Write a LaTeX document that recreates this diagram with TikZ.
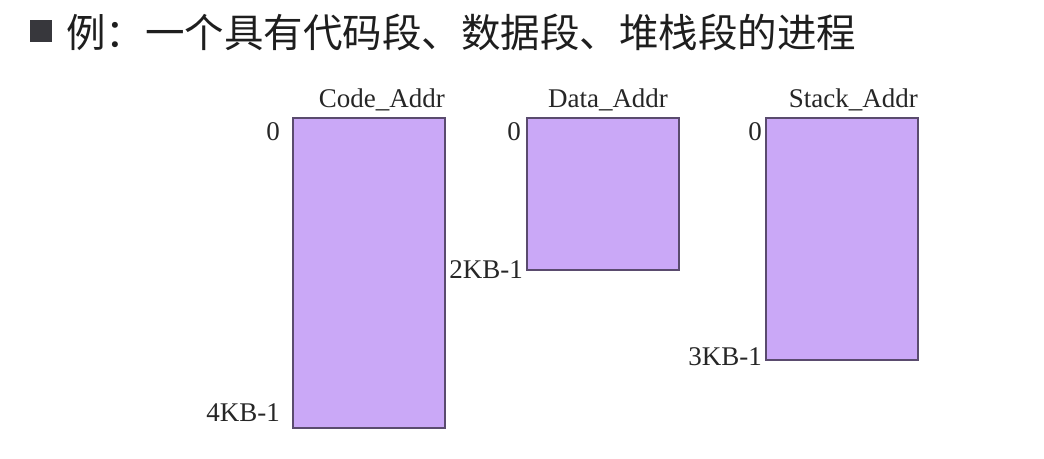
\documentclass[tikz,border=0pt]{standalone}
\usepackage{fontspec}
\setmainfont{Liberation Serif}
\newfontfamily\cjk{Noto Sans CJK SC}
\definecolor{segfill}{RGB}{202,168,247}
\definecolor{segdraw}{RGB}{90,75,110}
\definecolor{titlecol}{RGB}{30,30,30}
\definecolor{bulletcol}{RGB}{55,55,60}
\begin{document}
\begin{tikzpicture}[x=1pt,y=-1pt,
  seg/.style={draw=segdraw,fill=segfill,line width=1.2pt},
  lbl/.style={font=\fontsize{27}{27}\selectfont,text=black!85,inner sep=0pt},
]
\useasboundingbox (0,0) rectangle (1044,458);
% title
\fill[bulletcol] (30,20) rectangle (52,42) coordinate (bul);
\node[anchor=west,inner sep=0pt,text=titlecol,font=\cjk\fontsize{39.5}{39.5}\selectfont] (title) at (66,32) {例：一个具有代码段、数据段、堆栈段的进程};
% segments
\draw[seg] (293,118) rectangle (445,428);
\draw[seg] (527,118) rectangle (679,270);
\draw[seg] (766,118) rectangle (918,360);
% headers
\node[lbl,anchor=base east] (codeh) at (445,107) {Code\_Addr};
\node[lbl,anchor=base] (datah) at (608,107) {Data\_Addr};
\node[lbl,anchor=base east] (stackh) at (918,107) {Stack\_Addr};
% address labels
\node[lbl,anchor=base east] (c0) at (280,140) {0};
\node[lbl,anchor=base east] (c4) at (280,421) {4KB-1};
\node[lbl,anchor=base east] (d0) at (521,140) {0};
\node[lbl,anchor=base east] (d2) at (523,278) {2KB-1};
\node[lbl,anchor=base east] (s0) at (762,140) {0};
\node[lbl,anchor=base east] (s3) at (762,365) {3KB-1};
\end{tikzpicture}
\end{document}
